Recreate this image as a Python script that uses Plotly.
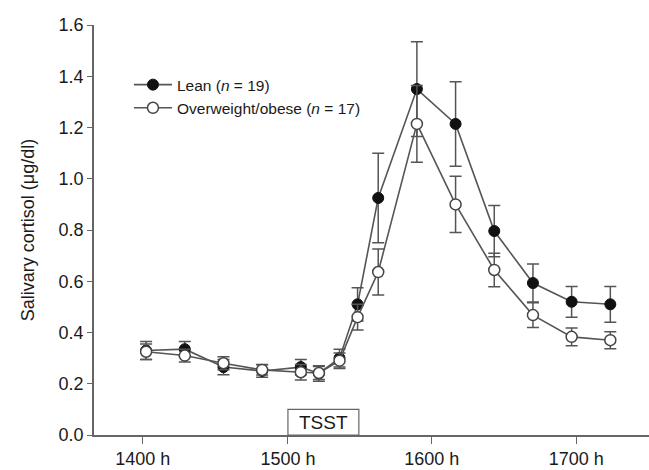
import plotly.graph_objects as go

# Sample times (minutes after 1400 h)
sample_min = [0, 15, 30, 45, 60, 67, 75, 82, 90, 105, 120, 135, 150, 165, 180]

lean_mean = [0.33, 0.335, 0.265, 0.25, 0.265, 0.24, 0.30, 0.51, 0.925, 1.35, 1.214, 0.796, 0.593, 0.52, 0.51]
lean_sem = [0.035, 0.03, 0.03, 0.025, 0.03, 0.03, 0.035, 0.065, 0.175, 0.185, 0.165, 0.10, 0.074, 0.06, 0.07]

obese_mean = [0.325, 0.31, 0.28, 0.254, 0.245, 0.242, 0.29, 0.46, 0.636, 1.214, 0.90, 0.644, 0.468, 0.383, 0.37]
obese_sem = [0.03, 0.025, 0.025, 0.02, 0.03, 0.025, 0.03, 0.05, 0.09, 0.15, 0.11, 0.065, 0.048, 0.035, 0.033]

tick_pos = [-1.3, 55, 110.8, 166.8]
tick_text = ["1400 h", "1500 h", "1600 h", "1700 h"]

y_ticks = [0.0, 0.2, 0.4, 0.6, 0.8, 1.0, 1.2, 1.4, 1.6]

tsst_start, tsst_end, tsst_height = 55, 82.5, 0.1

line_col = "#555555"
font_fam = "Liberation Sans, Arial, sans-serif"
txt_col = "#1a1a1a"

fig = go.Figure()
fig.add_trace(go.Scatter(
    x=sample_min, y=lean_mean, mode="lines+markers",
    name="Lean (<i>n</i> = 19)",
    line=dict(color=line_col, width=1.6),
    marker=dict(symbol="circle", size=11, color="#111111", line=dict(color="#111111", width=1)),
    error_y=dict(type="data", array=lean_sem, visible=True, color=line_col, thickness=1.5, width=6),
))
fig.add_trace(go.Scatter(
    x=sample_min, y=obese_mean, mode="lines+markers",
    name="Overweight/obese (<i>n</i> = 17)",
    line=dict(color=line_col, width=1.6),
    marker=dict(symbol="circle", size=11, color="white", line=dict(color="#444444", width=1.5)),
    error_y=dict(type="data", array=obese_sem, visible=True, color=line_col, thickness=1.5, width=6),
))

fig.add_shape(type="rect", xref="x", yref="y", x0=tsst_start, x1=tsst_end, y0=0, y1=tsst_height,
              line=dict(color="#666666", width=1.2), fillcolor="white", layer="above")
fig.add_annotation(x=(tsst_start + tsst_end) / 2, y=tsst_height / 2, xref="x", yref="y",
                   text="TSST", showarrow=False, font=dict(size=19, color=txt_col, family=font_fam))

fig.update_layout(
    width=649, height=470,
    margin=dict(l=94, r=0, t=25, b=35),
    paper_bgcolor="white", plot_bgcolor="white",
    font=dict(family=font_fam, color=txt_col, size=18),
    showlegend=True,
    legend=dict(x=0.063, y=0.895, xanchor="left", yanchor="top", bgcolor="rgba(0,0,0,0)",
                font=dict(size=15.5, color=txt_col), tracegroupgap=0, itemwidth=38),
)
fig.update_xaxes(range=[-20.2, 195], showline=True, linecolor="#666666", linewidth=1.5,
                 tickmode="array", tickvals=tick_pos, ticktext=tick_text,
                 ticks="outside", ticklen=7, tickcolor="#666666", tickwidth=1.2,
                 ticklabelstandoff=0,
                 showgrid=False, zeroline=False, tickfont=dict(size=18), automargin=False)
fig.update_yaxes(range=[0, 1.6], showline=True, linecolor="#666666", linewidth=1.5,
                 tickmode="array", tickvals=y_ticks, ticktext=[f"{v:.1f}" for v in y_ticks],
                 ticks="outside", ticklen=5, tickcolor="#666666", tickwidth=1.2,
                 showgrid=False, zeroline=False, tickfont=dict(size=18), automargin=False,
                 title=dict(text="Salivary cortisol (μg/dl)", font=dict(size=18), standoff=19))

fig.write_html("out.html", config={"displayModeBar": False},
               post_script="document.body.style.margin='0';document.body.style.overflow='hidden';")
